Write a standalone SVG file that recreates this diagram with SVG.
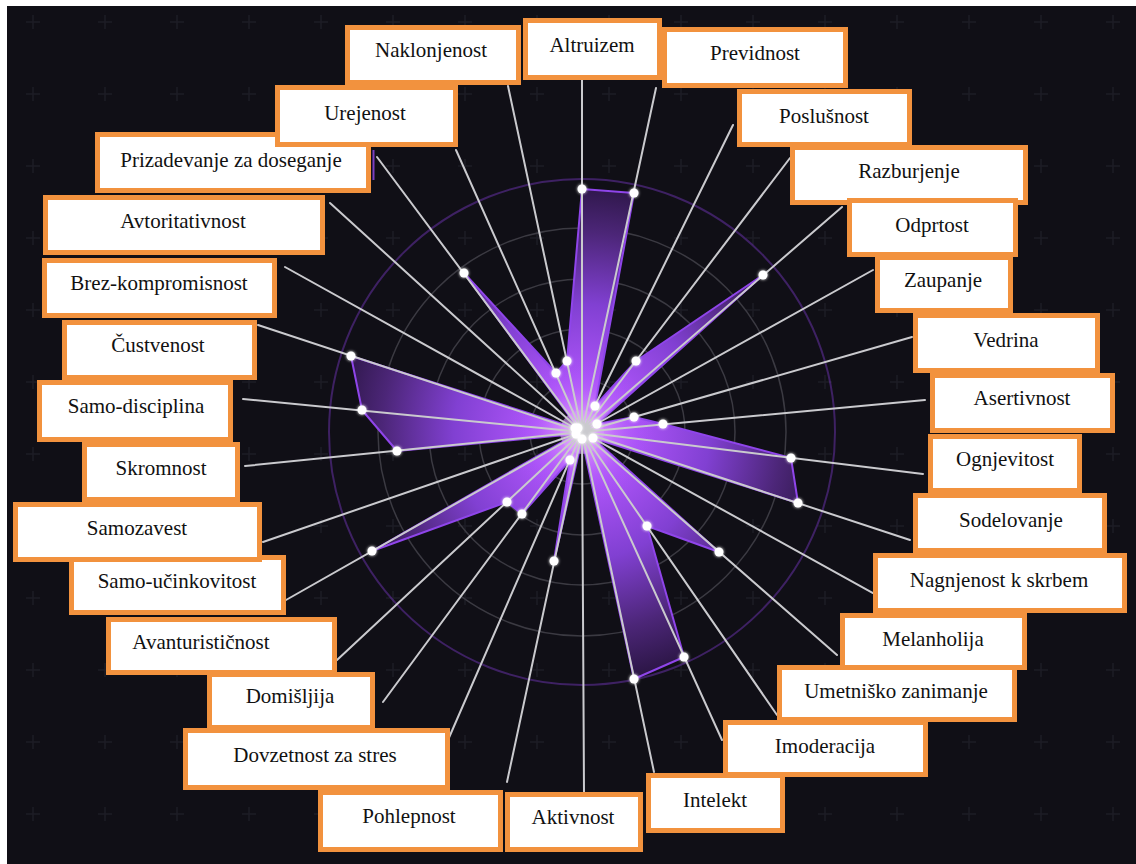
<svg xmlns="http://www.w3.org/2000/svg" width="1136" height="864" viewBox="0 0 1136 864">
  <defs>
    <pattern id="plusGrid" x="-3" y="-14" width="72" height="72" patternUnits="userSpaceOnUse">
      <path d="M29 36h14M36 29v14" stroke="#1c1b25" stroke-width="1.5"/>
    </pattern>
    <radialGradient id="areaFill" cx="582" cy="432" r="256" gradientUnits="userSpaceOnUse">
      <stop offset="0" stop-color="#d27aff"/>
      <stop offset="0.22" stop-color="#aa53f6"/>
      <stop offset="0.5" stop-color="#8140d2"/>
      <stop offset="0.78" stop-color="#4c2678"/>
      <stop offset="1" stop-color="#281440"/>
    </radialGradient>
    <radialGradient id="coreGlow" cx="582" cy="432" r="75" gradientUnits="userSpaceOnUse">
      <stop offset="0" stop-color="#fbefff" stop-opacity="0.95"/>
      <stop offset="0.2" stop-color="#e0a2ff" stop-opacity="0.7"/>
      <stop offset="0.6" stop-color="#b65eff" stop-opacity="0.3"/>
      <stop offset="1" stop-color="#a24ef2" stop-opacity="0"/>
    </radialGradient>
    <clipPath id="areaClip">
      <polygon points="582,189 634,193 595,406 636,361 763,275 597,424 634,417 663,424 791,458 798,503 593,438 719,552 647,526 684,657 634,679 582,439 554,561 570,460 522,514 507,502 372,551 576,434 397,451 362,410 351,356 575,428 578,428 464,273 556,373 567,361"/>
    </clipPath>
    <filter id="glow" x="-100%" y="-100%" width="300%" height="300%">
      <feGaussianBlur stdDeviation="1.8" result="b"/>
      <feMerge><feMergeNode in="b"/><feMergeNode in="SourceGraphic"/></feMerge>
    </filter>
  </defs>
  <style>
    .ring{fill:none;stroke:#3b3a42;stroke-width:1.5}
    .outer{fill:none;stroke:#6b34b0;stroke-width:2;stroke-opacity:0.5}
    .spoke{fill:none;stroke:#cacace;stroke-width:2;stroke-linecap:round}
    .area{fill:url(#areaFill);stroke:#8f45ea;stroke-width:2;stroke-linejoin:round}
    .dot{fill:#ffffff;filter:url(#glow)}
    .box rect{fill:#ffffff;stroke:#f2923e;stroke-width:5}
    .box text{font-size:21px;fill:#111111;text-anchor:middle}
  </style>

  <!-- page frame and background -->
  <rect width="1136" height="864" fill="#ffffff"/>
  <rect x="7" y="6" width="1129" height="858" fill="#100f16"/>
  <rect x="7" y="6" width="1129" height="858" fill="url(#plusGrid)"/>

  <!-- radar grid -->
  <g id="grid">
    <circle class="ring" cx="582" cy="432" r="52"/>
    <circle class="ring" cx="582" cy="432" r="103"/>
    <circle class="ring" cx="582" cy="432" r="153"/>
    <circle class="ring" cx="582" cy="432" r="204"/>
    <circle class="outer" cx="582" cy="432" r="253"/>
    <line x1="373.5" y1="150" x2="373.5" y2="180" stroke="#7b3fc0" stroke-width="2"/>
  </g>

  <!-- data area -->
  <g id="area">
    <polygon class="area" points="582,189 634,193 595,406 636,361 763,275 597,424 634,417 663,424 791,458 798,503 593,438 719,552 647,526 684,657 634,679 582,439 554,561 570,460 522,514 507,502 372,551 576,434 397,451 362,410 351,356 575,428 578,428 464,273 556,373 567,361"/>
    <circle cx="582" cy="432" r="75" fill="url(#coreGlow)" clip-path="url(#areaClip)"/>
    <circle cx="582" cy="432" r="22" fill="url(#coreGlow)"/>
  </g>

  <!-- spokes from the centre to each label -->
  <g id="connectors">
    <path class="spoke" d="M582 432L582 80M582 432L656 88M582 432L733 125M582 432L790 158M582 432L842 207M582 432L873 270M582 432L912 337M582 432L925 400M582 432L923 474M582 432L910 540M582 432L873 593M582 432L837 655M582 432L777 715M582 432L722 740M582 432L654 772M582 432L584 792M582 432L507 782M582 432L448 740M582 432L383 702M582 432L337 660M582 432L286 600M582 432L263 542M582 432L245 466M582 432L243 399M582 432L258 325M582 432L285 267M582 432L330 203M582 432L377 157M582 432L456 150M582 432L508 86"/>
  </g>

  <!-- data points -->
  <g id="points">
    <circle class="dot" cx="582" cy="189" r="4.5"/>
    <circle class="dot" cx="634" cy="193" r="4.5"/>
    <circle class="dot" cx="595" cy="406" r="4.5"/>
    <circle class="dot" cx="636" cy="361" r="4.5"/>
    <circle class="dot" cx="763" cy="275" r="4.5"/>
    <circle class="dot" cx="597" cy="424" r="4.5"/>
    <circle class="dot" cx="634" cy="417" r="4.5"/>
    <circle class="dot" cx="663" cy="424" r="4.5"/>
    <circle class="dot" cx="791" cy="458" r="4.5"/>
    <circle class="dot" cx="798" cy="503" r="4.5"/>
    <circle class="dot" cx="593" cy="438" r="4.5"/>
    <circle class="dot" cx="719" cy="552" r="4.5"/>
    <circle class="dot" cx="647" cy="526" r="4.5"/>
    <circle class="dot" cx="684" cy="657" r="4.5"/>
    <circle class="dot" cx="634" cy="679" r="4.5"/>
    <circle class="dot" cx="582" cy="439" r="4.5"/>
    <circle class="dot" cx="554" cy="561" r="4.5"/>
    <circle class="dot" cx="570" cy="460" r="4.5"/>
    <circle class="dot" cx="522" cy="514" r="4.5"/>
    <circle class="dot" cx="507" cy="502" r="4.5"/>
    <circle class="dot" cx="372" cy="551" r="4.5"/>
    <circle class="dot" cx="576" cy="434" r="4.5"/>
    <circle class="dot" cx="397" cy="451" r="4.5"/>
    <circle class="dot" cx="362" cy="410" r="4.5"/>
    <circle class="dot" cx="351" cy="356" r="4.5"/>
    <circle class="dot" cx="575" cy="428" r="4.5"/>
    <circle class="dot" cx="578" cy="428" r="4.5"/>
    <circle class="dot" cx="464" cy="273" r="4.5"/>
    <circle class="dot" cx="556" cy="373" r="4.5"/>
    <circle class="dot" cx="567" cy="361" r="4.5"/>
  </g>

  <!-- labels -->
  <g id="labels" font-family="'Liberation Serif', 'DejaVu Serif', serif">
  <g id="lbl-prizadevanje" class="box"><rect x="97.5" y="134.5" width="271" height="56"/><text x="231" y="167">Prizadevanje za doseganje</text></g>
  <g id="lbl-urejenost" class="box"><rect x="277.5" y="87.5" width="178" height="57"/><text x="365" y="120">Urejenost</text></g>
  <g id="lbl-naklonjenost" class="box"><rect x="347.5" y="27.5" width="171" height="55"/><text x="431" y="57">Naklonjenost</text></g>
  <g id="lbl-altruizem" class="box"><rect x="525.5" y="20.5" width="134" height="57"/><text x="592" y="52">Altruizem</text></g>
  <g id="lbl-previdnost" class="box"><rect x="664.5" y="29.5" width="181" height="56"/><text x="755" y="60">Previdnost</text></g>
  <g id="lbl-poslusnost" class="box"><rect x="739.5" y="91.5" width="170" height="53"/><text x="824" y="123">Poslušnost</text></g>
  <g id="lbl-razburjenje" class="box"><rect x="792.5" y="147.5" width="233" height="55"/><text x="909" y="178">Razburjenje</text></g>
  <g id="lbl-odprtost" class="box"><rect x="849.5" y="200.5" width="166" height="54"/><text x="932" y="232">Odprtost</text></g>
  <g id="lbl-zaupanje" class="box"><rect x="877.5" y="257.5" width="133" height="53"/><text x="943" y="287">Zaupanje</text></g>
  <g id="lbl-vedrina" class="box"><rect x="915.5" y="315.5" width="182" height="55"/><text x="1006" y="347">Vedrina</text></g>
  <g id="lbl-asertivnost" class="box"><rect x="932.5" y="375.5" width="180" height="55"/><text x="1022" y="405">Asertivnost</text></g>
  <g id="lbl-ognjevitost" class="box"><rect x="930.5" y="436.5" width="149" height="54"/><text x="1005" y="466">Ognjevitost</text></g>
  <g id="lbl-sodelovanje" class="box"><rect x="915.5" y="495.5" width="189" height="55"/><text x="1011" y="527">Sodelovanje</text></g>
  <g id="lbl-nagnjenost" class="box"><rect x="875.5" y="555.5" width="249" height="55"/><text x="999" y="587">Nagnjenost k skrbem</text></g>
  <g id="lbl-melanholija" class="box"><rect x="842.5" y="615.5" width="182" height="52"/><text x="933" y="646">Melanholija</text></g>
  <g id="lbl-umetnisko" class="box"><rect x="779.5" y="667.5" width="235" height="52"/><text x="896" y="698">Umetniško zanimanje</text></g>
  <g id="lbl-imoderacija" class="box"><rect x="725.5" y="722.5" width="200" height="52"/><text x="825" y="753">Imoderacija</text></g>
  <g id="lbl-intelekt" class="box"><rect x="648.5" y="775.5" width="134" height="55"/><text x="715" y="807">Intelekt</text></g>
  <g id="lbl-aktivnost" class="box"><rect x="507.5" y="794.5" width="133" height="55"/><text x="573" y="824">Aktivnost</text></g>
  <g id="lbl-pohlepnost" class="box"><rect x="320.5" y="792.5" width="180" height="57"/><text x="409" y="823">Pohlepnost</text></g>
  <g id="lbl-dovzetnost" class="box"><rect x="185.5" y="730.5" width="262" height="57"/><text x="315" y="762">Dovzetnost za stres</text></g>
  <g id="lbl-domisljija" class="box"><rect x="209.5" y="674.5" width="163" height="53"/><text x="290" y="703">Domišljija</text></g>
  <g id="lbl-avanturisticnost" class="box"><rect x="108.5" y="619.5" width="226" height="53"/><text x="201" y="649">Avanturističnost</text></g>
  <g id="lbl-samoucinkovitost" class="box"><rect x="71.5" y="557.5" width="212" height="55"/><text x="177" y="588">Samo-učinkovitost</text></g>
  <g id="lbl-samozavest" class="box"><rect x="15.5" y="504.5" width="244" height="55"/><text x="137" y="535">Samozavest</text></g>
  <g id="lbl-skromnost" class="box"><rect x="84.5" y="444.5" width="153" height="55"/><text x="161" y="475">Skromnost</text></g>
  <g id="lbl-samodisciplina" class="box"><rect x="39.5" y="382.5" width="191" height="57"/><text x="136" y="413">Samo-disciplina</text></g>
  <g id="lbl-custvenost" class="box"><rect x="64.5" y="322.5" width="190" height="55"/><text x="158" y="352">Čustvenost</text></g>
  <g id="lbl-brezkompromisnost" class="box"><rect x="44.5" y="260.5" width="230" height="55"/><text x="159" y="290">Brez-kompromisnost</text></g>
  <g id="lbl-avtoritativnost" class="box"><rect x="45.5" y="197.5" width="277" height="55"/><text x="183" y="228">Avtoritativnost</text></g>
  </g>
</svg>
